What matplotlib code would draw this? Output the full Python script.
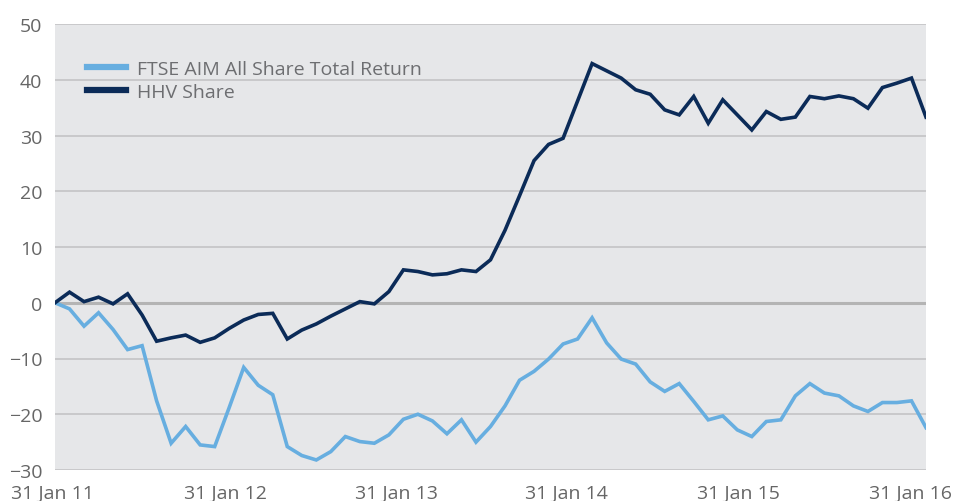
import matplotlib
matplotlib.use("Agg")
import matplotlib.pyplot as plt
import matplotlib.transforms as mtransforms
import numpy as np

# Monthly data, 31 Jan 11 .. 31 Jan 16 (61 months)
ftse = [0.0, -1.1, -4.2, -1.8, -4.8, -8.4, -7.7, -17.6, -25.2, -22.2,
        -25.5, -25.8, -18.8, -11.6, -14.8, -16.5, -25.8, -27.4, -28.2, -26.7,
        -24.0, -24.9, -25.2, -23.7, -20.9, -20.0, -21.2, -23.5, -21.0, -25.0,
        -22.2, -18.5, -13.9, -12.3, -10.1, -7.4, -6.5, -2.7, -7.2, -10.1,
        -11.0, -14.2, -15.9, -14.5, -17.7, -21.0, -20.3, -22.8, -24.0, -21.3,
        -21.0, -16.7, -14.5, -16.2, -16.7, -18.5, -19.5, -17.9, -17.9, -17.6,
        -22.4]
hhv = [0.0, 1.9, 0.2, 1.0, -0.2, 1.6, -2.2, -6.9, -6.3, -5.8,
       -7.1, -6.3, -4.6, -3.1, -2.1, -1.9, -6.5, -4.9, -3.8, -2.4,
       -1.1, 0.2, -0.2, 2.0, 5.9, 5.6, 5.0, 5.2, 5.9, 5.6,
       7.7, 13.0, 19.2, 25.5, 28.4, 29.5, 36.2, 42.9, 41.6, 40.3,
       38.2, 37.4, 34.6, 33.7, 37.0, 32.2, 36.4, 33.7, 31.0, 34.3,
       32.9, 33.3, 37.0, 36.6, 37.1, 36.6, 34.9, 38.6, 39.4, 40.3,
       33.3]
tick_positions = [0, 12, 24, 36, 48, 60]
tick_labels = ["31 Jan 11", "31 Jan 12", "31 Jan 13", "31 Jan 14", "31 Jan 15", "31 Jan 16"]
y_ticks = [-30, -20, -10, 0, 10, 20, 30, 40, 50]
series_names = ["FTSE AIM All Share Total Return", "HHV Share"]

plt.rcParams['font.family'] = ['Open Sans', 'DejaVu Sans']

fig = plt.figure(figsize=(9.54, 5.02), dpi=100)
ax = fig.add_axes([55/954, 1 - 471/502, (926 - 55)/954, (471 - 25)/502])
ax.set_facecolor('#e6e7e9')

x = np.arange(len(ftse))
ax.plot(x, ftse, color='#67aee0', lw=2.6, label=series_names[0], zorder=3,
        solid_joinstyle='miter')
ax.plot(x, hhv, color='#0b2b58', lw=2.6, label=series_names[1], zorder=4,
        solid_joinstyle='miter')

ax.set_xlim(0, 60)
ax.set_ylim(-30, 50)
ax.set_yticks(y_ticks)
for yv in y_ticks:
    if yv == 0:
        ax.axhline(yv, color='#b4b4b4', lw=2.2, zorder=2)
    else:
        ax.axhline(yv, color='#c6c6c8', lw=1.3, zorder=2)

ax.set_xticks(tick_positions)
ax.set_xticklabels(tick_labels)
ax.tick_params(axis='both', length=0, colors='#666666', labelsize=14)
ax.tick_params(axis='x', pad=10)
ax.tick_params(axis='y', pad=9)
for s in ax.spines.values():
    s.set_visible(False)

offsets = [-3, -4, -7, -11, -13, -15]
for lab, off in zip(ax.get_xticklabels(), offsets):
    lab.set_transform(lab.get_transform() + mtransforms.ScaledTranslation(off/100, 0, fig.dpi_scale_trans))

leg = ax.legend(loc='upper left', bbox_to_anchor=(32/871, 1 - 36/446), frameon=False,
                fontsize=14, handlelength=2.0, handletextpad=0.55, labelspacing=0.25,
                borderpad=0, borderaxespad=0)
for t in leg.get_texts():
    t.set_color('#6d6e71')
for h in leg.get_lines():
    h.set_linewidth(4.5)

fig.text(0.186, 1.015, "(monthly data)", color='#4aa8e0', fontsize=22, fontweight='bold',
         ha='left', va='baseline')

fig.savefig("out.png", dpi=100)
